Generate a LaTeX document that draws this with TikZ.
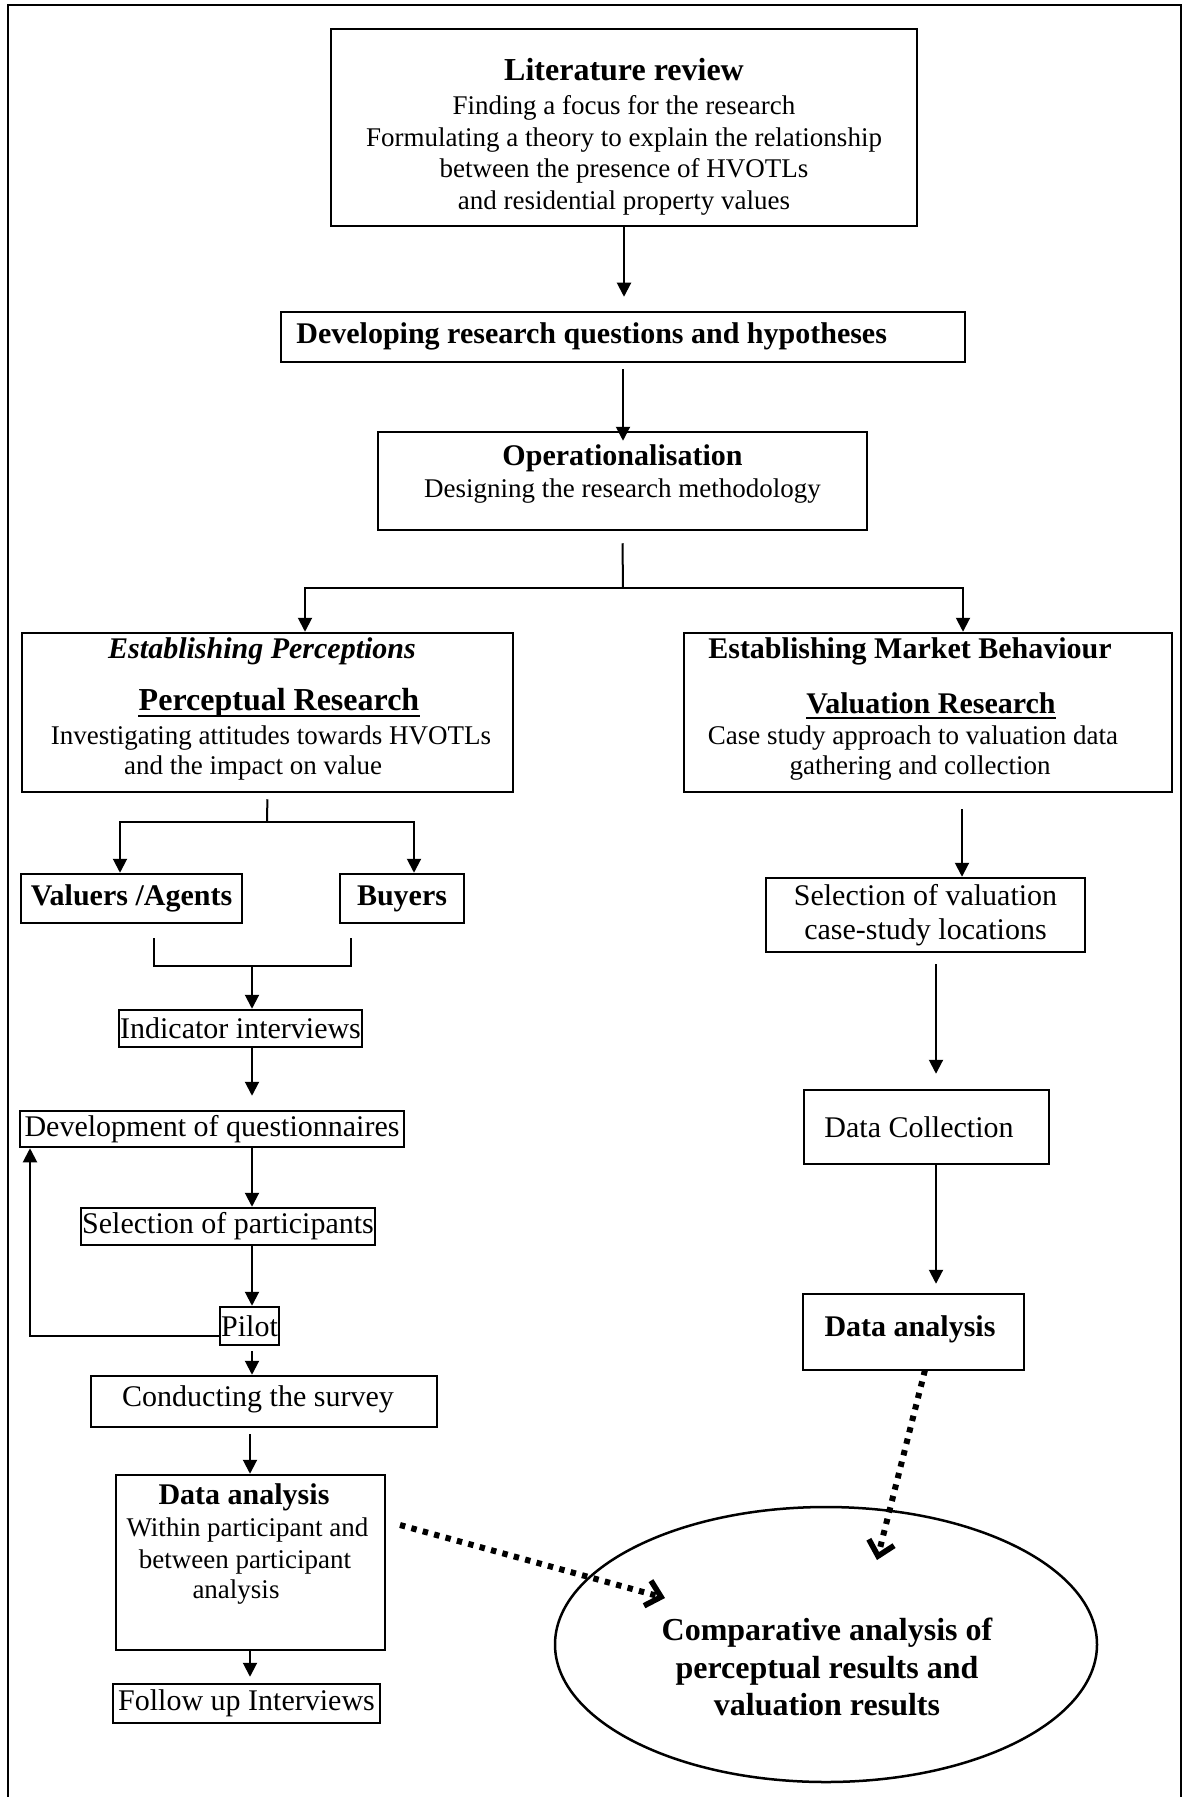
\documentclass[tikz,border=0pt]{standalone}
\usepackage{fontspec}
\setmainfont{Liberation Serif}
\usetikzlibrary{arrows.meta,shapes.geometric}
\begin{document}
\begin{tikzpicture}[x=0.5pt,y=-0.5pt,
  box/.style={draw, line width=1.25pt, inner sep=0pt, align=center},
  tx/.style={inner sep=0pt, align=center},
  body/.style={font=\fontsize{13.5}{16}\selectfont},
  mid/.style={font=\fontsize{15}{17}\selectfont},
  head/.style={font=\fontsize{15}{17}\selectfont\bfseries},
  big/.style={font=\fontsize{16}{19}\selectfont\bfseries},
  link/.style={line width=1pt},
  arr/.style={line width=1pt, -{Triangle[length=7pt,width=7pt]}},
  dotarrow/.style={line width=3pt, dash pattern=on 2.7pt off 3.2pt,
    -{Straight Barb[length=7pt,width=13pt,line width=2.8pt]}}
]
\useasboundingbox (0,0) rectangle (1186,1797);
% page frame (open at the bottom)
\draw[line width=1.25pt] (8,1797) -- (8,5) -- (1181,5) -- (1181,1797);

% ---- top chain ----
\node[box, minimum width=293pt, minimum height=98.5pt] (lit) at (624,127.5) {};
\node[tx, font=\fontsize{13.5}{15.8}\selectfont] (litT) at (624,137) {{\fontsize{16}{19}\selectfont\bfseries Literature review}\\[1.2pt]
  Finding a focus for the research\\
  Formulating a theory to explain the relationship\\
  between the presence of HVOTLs\\
  and residential property values};

\node[box, minimum width=342pt, minimum height=25pt] (dev) at (623,337) {};
\node[tx, head, anchor=west] (devT) at (296,336) {Developing research questions and hypotheses};

\node[box, minimum width=244.5pt, minimum height=49pt] (ops) at (622.5,481) {};
\node[tx, body] (opsT) at (622.5,474) {{\fontsize{15}{17}\selectfont\bfseries Operationalisation}\\ Designing the research methodology};

% ---- perceptual branch ----
\node[box, minimum width=245.5pt, minimum height=79.5pt] (per) at (267.5,712.5) {};
\node[tx, font=\fontsize{15}{17}\selectfont\bfseries\itshape] (perA) at (262,651) {Establishing Perceptions};
\node[tx, big] (perB) at (279,703) {Perceptual Research};
\draw[line width=1pt] ([yshift=-2.5pt]perB.base west) -- ([yshift=-2.5pt]perB.base east);
\node[tx, body] (perC) at (271,738) {Investigating attitudes towards HVOTLs};
\node[tx, body] (perD) at (253,768) {and the impact on value};

% ---- market branch ----
\node[box, minimum width=244pt, minimum height=79.5pt] (mkt) at (928,712.5) {};
\node[tx, head] (mktA) at (910,651) {Establishing Market Behaviour};
\node[tx, head] (mktB) at (931,703) {Valuation Research};
\draw[line width=1pt] ([yshift=-2.5pt]mktB.base west) -- ([yshift=-2.5pt]mktB.base east);
\node[tx, body] (mktC) at (913,738) {Case study approach to valuation data};
\node[tx, body] (mktD) at (920,768) {gathering and collection};

% ---- left column ----
\node[box, head, minimum width=110.5pt, minimum height=24.5pt] (val) at (131.5,898.5) {Valuers /Agents};
\node[box, head, minimum width=62pt, minimum height=24.5pt] (buy) at (402,898.5) {Buyers};
\node[box, mid, minimum width=121.5pt, minimum height=18.5pt] (ind) at (240.5,1028.5) {Indicator interviews};
\node[box, mid, minimum width=192pt, minimum height=18pt] (devq) at (212,1129) {Development of questionnaires};
\node[box, mid, minimum width=147pt, minimum height=18.5pt] (selp) at (228,1226.5) {Selection of participants};
\node[box, mid, minimum width=29.5pt, minimum height=19pt] (pilot) at (249.5,1326) {Pilot};
\node[box, minimum width=173pt, minimum height=25.5pt] (cond) at (264,1401.5) {};
\node[tx, mid] (condT) at (258,1399) {Conducting the survey};
\node[box, minimum width=134.5pt, minimum height=87.5pt] (dal) at (250.5,1562.5) {};
\node[tx, head] (dalA) at (244,1497) {Data analysis};
\node[tx, body] (dalB) at (247.5,1530) {Within participant and};
\node[tx, body] (dalC) at (245,1562) {between participant};
\node[tx, body] (dalD) at (236,1592) {analysis};
\node[box, mid, minimum width=133.5pt, minimum height=19.5pt] (fol) at (246.5,1703.5) {Follow up Interviews};

% ---- right column ----
\node[box, font=\fontsize{15}{17}\selectfont, minimum width=159.5pt, minimum height=37pt] (sel) at (925.5,915) {Selection of valuation\\case-study locations};
\node[box, minimum width=122.5pt, minimum height=37pt] (dc) at (926.5,1127) {};
\node[tx, mid] (dcT) at (919,1127) {Data Collection};
\node[box, minimum width=110.5pt, minimum height=38pt] (dar) at (913.5,1332) {};
\node[tx, head] (darT) at (910,1329) {Data analysis};

% ---- comparison ----
\node[draw, ellipse, line width=1.25pt, inner sep=0pt, minimum width=271pt, minimum height=137.5pt] (cmp) at (826,1644.5) {};
\node[tx, font=\fontsize{16}{18.75}\selectfont\bfseries] (cmpT) at (827,1667) {Comparative analysis of\\ perceptual results and\\ valuation results};

% ---- routing points ----
\coordinate (split) at (623,588);
\coordinate (sL) at (305,588);
\coordinate (sR) at (963,588);
\coordinate (pj) at (267,822);
\coordinate (pL) at (120,822);
\coordinate (pR) at (414,822);
\coordinate (jL) at (154,966);
\coordinate (jR) at (351,966);
\coordinate (jM) at (252,966);
\coordinate (lp) at (30,1336);
\coordinate (kM) at (250,0);
\coordinate (rA) at (962,0);
\coordinate (rB) at (936,0);
\coordinate (dA) at (400,1525);
\coordinate (dB) at (665,1598);
\coordinate (eA) at (925,1370);
\coordinate (eB) at (877,1560);

% ---- connectors ----
\draw[arr, shorten >=7pt] (lit.south) -- (lit.south |- dev.north);
\draw[arr, shorten <=3pt, shorten >=-5pt] (dev.south) -- (dev.south |- ops.north);
\draw[link] ([yshift=-6pt]ops.south) -- (split);
\draw[arr] (split) -- (sL) -- (sL |- per.north);
\draw[arr] (split) -- (sR) -- (sR |- mkt.north);

\draw[link, shorten <=3pt] (per.south) -- (pj);
\draw[arr] (pj) -- (pL) -- (pL |- val.north);
\draw[arr] (pj) -- (pR) -- (pR |- buy.north);

\draw[link, shorten <=7pt] (val.south -| jL) -- (jL) -- (jM);
\draw[link, shorten <=7pt] (buy.south -| jR) -- (jR) -- (jM);
\draw[arr] (jM) -- (jM |- ind.north);
\draw[arr, shorten >=7pt] (ind.south -| jM) -- (devq.north -| jM);
\draw[arr] (devq.south -| jM) -- (selp.north -| jM);
\draw[arr] (selp.south -| jM) -- (pilot.north -| jM);
\draw[arr] (pilot.west |- lp) -- (lp) -- (lp |- devq.south);
\draw[arr, shorten <=2.5pt] (pilot.south -| jM) -- (cond.north -| jM);
\draw[arr, shorten <=3pt] (cond.south -| kM) -- (dal.north -| kM);
\draw[arr, shorten >=3pt] (dal.south -| kM) -- (fol.north -| kM);

\draw[arr, shorten <=8pt] (mkt.south -| rA) -- (sel.north -| rA);
\draw[arr, shorten <=5.5pt, shorten >=7.5pt] (sel.south -| rB) -- (dc.north -| rB);
\draw[arr, shorten >=4.5pt] (dc.south -| rB) -- (dar.north -| rB);

\draw[dotarrow] (dA) -- (dB);
\draw[dotarrow] (eA) -- (eB);
\end{tikzpicture}
\end{document}
